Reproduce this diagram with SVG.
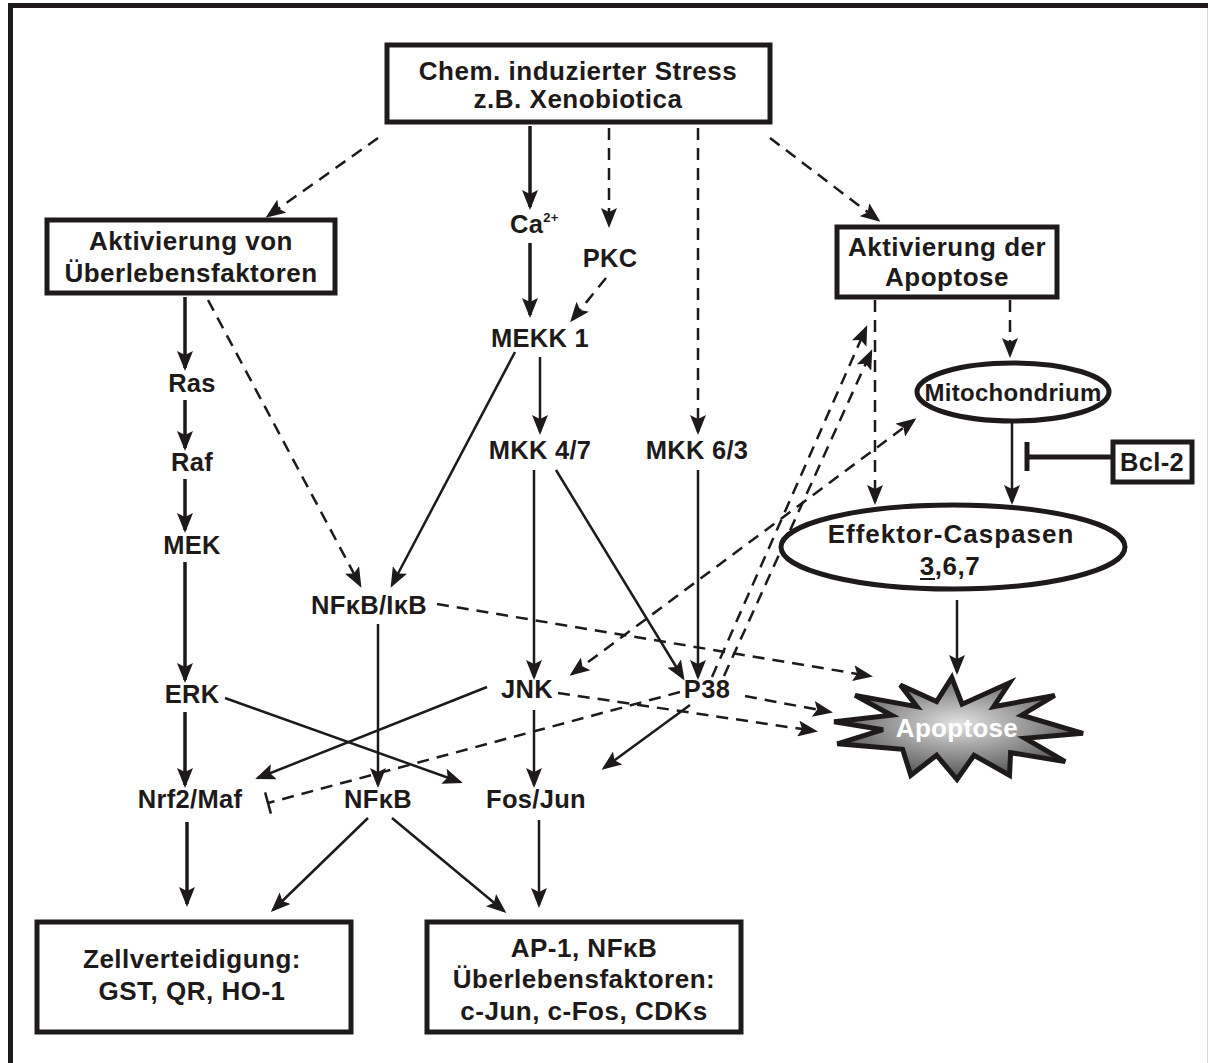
<svg xmlns="http://www.w3.org/2000/svg" width="1208" height="1063" viewBox="0 0 1208 1063">
<style>
.t{font-family:"Liberation Sans",Arial,sans-serif;font-weight:bold;font-size:25.5px;letter-spacing:0.3px;fill:#1e1a1a;text-anchor:middle}
.bx{font-size:26px;letter-spacing:0.5px}
.box{fill:#fff;stroke:#1e1a1a;stroke-width:5}
.ell{fill:#fff;stroke:#1e1a1a;stroke-width:5}
.s{fill:none;stroke:#1e1a1a;stroke-width:3.5}
.n{fill:none;stroke:#1e1a1a;stroke-width:2.5}
.d{fill:none;stroke:#1e1a1a;stroke-width:2.5;stroke-dasharray:12 8}
.a{marker-end:url(#ah)}
</style>
<defs>
<marker id="ah" markerUnits="userSpaceOnUse" markerWidth="22" markerHeight="16" refX="17" refY="8" orient="auto">
<path d="M0,0 L20,8 L0,16 L4,8 z" fill="#1e1a1a"/>
</marker>
<marker id="ahs" markerUnits="userSpaceOnUse" markerWidth="22" markerHeight="16" refX="3" refY="8" orient="auto">
<path d="M20,0 L0,8 L20,16 L16,8 z" fill="#1e1a1a"/>
</marker>
<radialGradient id="sg" cx="50%" cy="45%" r="60%">
<stop offset="0" stop-color="#e2e2e2"/>
<stop offset="0.45" stop-color="#9a9a9a"/>
<stop offset="1" stop-color="#454545"/>
</radialGradient>
</defs>
<rect width="1208" height="1063" fill="#fff"/>
<g id="frame">
<line x1="8" y1="5.5" x2="1208" y2="5.5" stroke="#1e1a1a" stroke-width="5"/>
<line x1="10.5" y1="3" x2="10.5" y2="1063" stroke="#1e1a1a" stroke-width="5"/>
<line x1="1207.5" y1="8" x2="1207.5" y2="1063" stroke="#d8d8d8" stroke-width="1"/>
</g>
<g id="connectors">
<line class="d a" x1="378" y1="138" x2="268" y2="216"/>
<line class="s a" x1="530" y1="126" x2="530" y2="207"/>
<line class="d a" x1="609" y1="128" x2="609" y2="225"/>
<line class="d a" x1="698" y1="128" x2="698" y2="432"/>
<line class="d a" x1="770" y1="138" x2="878" y2="220"/>
<line class="s a" x1="530" y1="243" x2="530" y2="315"/>
<line class="d a" x1="606" y1="278" x2="572" y2="320"/>
<line class="s a" x1="185" y1="297" x2="185" y2="368"/>
<line class="s a" x1="185" y1="400" x2="185" y2="448"/>
<line class="s a" x1="185" y1="479" x2="185" y2="530"/>
<line class="s a" x1="185" y1="562" x2="185" y2="680"/>
<line class="s a" x1="185" y1="712" x2="185" y2="785"/>
<line class="s a" x1="187" y1="822" x2="187" y2="904"/>
<line class="d a" x1="208" y1="300" x2="360" y2="585"/>
<line class="n a" x1="515" y1="352" x2="392" y2="585"/>
<line class="n a" x1="378" y1="624" x2="378" y2="785"/>
<line class="d a" x1="437" y1="604" x2="870" y2="676"/>
<line class="n a" x1="540" y1="357" x2="540" y2="432"/>
<line class="n a" x1="534" y1="470" x2="534" y2="677"/>
<line class="n a" x1="556" y1="470" x2="683" y2="678"/>
<line class="n a" x1="698" y1="470" x2="698" y2="677"/>
<line class="d a" x1="712" y1="677" x2="866" y2="328"/>
<line class="d a" x1="724" y1="676" x2="871" y2="352"/>
<line class="d a" x1="572" y1="674" x2="914" y2="420" marker-start="url(#ahs)"/>
<line class="d a" x1="558" y1="693" x2="815" y2="731"/>
<line class="d a" x1="745" y1="696" x2="830" y2="712"/>
<line class="n a" x1="487" y1="687" x2="258" y2="778"/>
<line class="n a" x1="225" y1="698" x2="460" y2="782"/>
<line class="d" x1="680" y1="692" x2="268" y2="803"/>
<line class="n" x1="265.1" y1="792.4" x2="270.9" y2="813.6"/>
<line class="n a" x1="534" y1="710" x2="534" y2="785"/>
<line class="n a" x1="690" y1="705" x2="604" y2="768"/>
<line class="n a" x1="368" y1="818" x2="273" y2="910"/>
<line class="n a" x1="392" y1="818" x2="504" y2="911"/>
<line class="n a" x1="539" y1="820" x2="539" y2="905"/>
<line class="d a" x1="875" y1="300" x2="875" y2="502"/>
<line class="d a" x1="1010" y1="300" x2="1010" y2="355"/>
<line class="n a" x1="1012" y1="423" x2="1012" y2="502"/>
<line fill="none" stroke="#1e1a1a" stroke-width="5" x1="1113" y1="457" x2="1027" y2="457"/>
<line fill="none" stroke="#1e1a1a" stroke-width="5" x1="1027" y1="442" x2="1027" y2="471"/>
<line class="n a" x1="957" y1="600" x2="957" y2="672"/>
</g>
<g id="stress">
<rect class="box" x="387" y="45" width="383" height="77"/>
<text class="t bx" x="578" y="80">Chem. induzierter Stress</text>
<text class="t bx" x="578" y="108">z.B. Xenobiotica</text>
</g>
<g id="ueberleben">
<rect class="box" x="47" y="220" width="288" height="73"/>
<text class="t bx" x="191" y="250">Aktivierung von</text>
<text class="t bx" x="191" y="282">Überlebensfaktoren</text>
</g>
<g id="apoptose-akt">
<rect class="box" x="837" y="227" width="220" height="70"/>
<text class="t bx" x="947" y="256">Aktivierung der</text>
<text class="t bx" x="947" y="286">Apoptose</text>
</g>
<g id="ca"><text class="t" x="510" y="233" style="text-anchor:start">Ca<tspan dy="-11" font-size="13">2+</tspan></text></g>
<g id="pkc"><text class="t" x="610" y="267">PKC</text></g>
<g id="mekk1"><text class="t" x="540" y="347">MEKK 1</text></g>
<g id="mkk47"><text class="t" x="540" y="459">MKK 4/7</text></g>
<g id="mkk63"><text class="t" x="697" y="459">MKK 6/3</text></g>
<g id="ras"><text class="t" x="192" y="392">Ras</text></g>
<g id="raf"><text class="t" x="192" y="471">Raf</text></g>
<g id="mek"><text class="t" x="192" y="554">MEK</text></g>
<g id="erk"><text class="t" x="192" y="703">ERK</text></g>
<g id="nrf2"><text class="t" x="190" y="808">Nrf2/Maf</text></g>
<g id="nfkbikb"><text class="t" x="369" y="614">NFκB/IκB</text></g>
<g id="nfkb"><text class="t" x="378" y="808">NFκB</text></g>
<g id="jnk"><text class="t" x="527" y="698">JNK</text></g>
<g id="p38"><text class="t" x="707" y="698">P38</text></g>
<g id="fosjun"><text class="t" x="536" y="808">Fos/Jun</text></g>
<g id="mito">
<ellipse class="ell" cx="1013" cy="392" rx="96" ry="29"/>
<text class="t" x="1013" y="401" style="font-size:24px">Mitochondrium</text>
</g>
<g id="bcl2">
<rect class="box" x="1113" y="442" width="79" height="40"/>
<text class="t" x="1152" y="471">Bcl-2</text>
</g>
<g id="caspasen">
<ellipse class="ell" cx="953" cy="547" rx="172" ry="42"/>
<text class="t" x="951" y="543" style="font-size:26px;letter-spacing:1px">Effektor-Caspasen</text>
<text class="t" x="950" y="575" style="font-size:26px;letter-spacing:0.5px">3,6,7</text>
<line x1="920" y1="579" x2="935" y2="579" stroke="#1e1a1a" stroke-width="2"/>
</g>
<g id="apoptose">
<polygon points="951.8,677.6 962.1,704.2 1009.5,682.8 993.6,706.7 1054.7,695.4 1021.6,715.2 1083,733.3 1025,738.2 1065.2,761.6 1010.6,752.7 1009.5,775.3 974,755.2 957,779.5 936.6,755.2 910.8,775.3 902.6,749.3 837.3,743.8 883,729.7 834.1,721.7 891.5,715.2 855.1,695.4 917,706.7 900.3,684.9 936.6,701.6" fill="url(#sg)" stroke="#1e1a1a" stroke-width="5" stroke-linejoin="miter"/>
<text class="t" x="957" y="737" style="font-size:26px;fill:#fff">Apoptose</text>
</g>
<g id="zellverteidigung">
<rect class="box" x="37" y="922" width="314" height="110"/>
<text class="t bx" x="192" y="968">Zellverteidigung:</text>
<text class="t bx" x="192" y="1000">GST, QR, HO-1</text>
</g>
<g id="ueberlebensfaktoren">
<rect class="box" x="427" y="922" width="314" height="110"/>
<text class="t bx" x="584" y="957">AP-1, NFκB</text>
<text class="t bx" x="584" y="988">Überlebensfaktoren:</text>
<text class="t bx" x="584" y="1020">c-Jun, c-Fos, CDKs</text>
</g>
</svg>
